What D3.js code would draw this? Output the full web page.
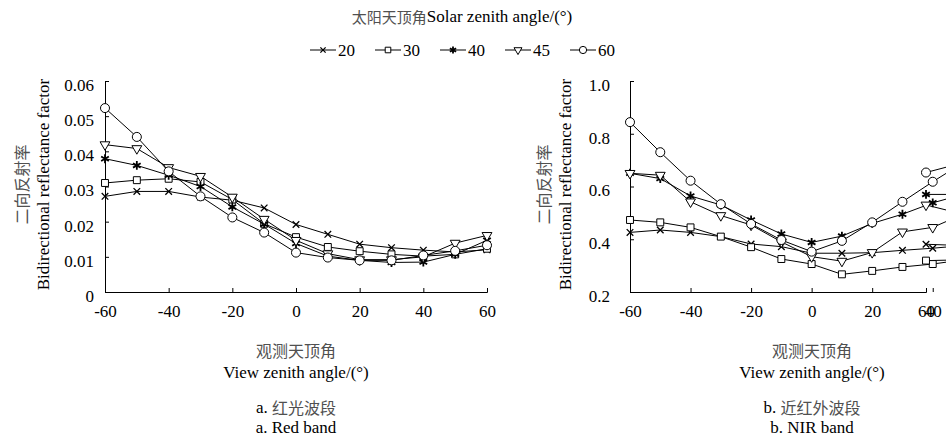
<!DOCTYPE html>
<html>
<head>
<meta charset="utf-8">
<script src="https://cdn.jsdelivr.net/npm/d3@7"></script>
<style>
  body { margin: 0; background: #fff; }
  text { font-family: "Liberation Serif", "Times New Roman", serif; fill: #000; }
  .cjk { font-family: "Noto Sans CJK SC", sans-serif; fill: #505050; }
</style>
</head>
<body>
<div id="chart"></div>
<script>
// view zenith angles (x) and the solar zenith angle series
var viewAngles = [-60, -50, -40, -30, -20, -10, 0, 10, 20, 30, 40, 50, 60];
var solarAngles = ["20", "30", "40", "45", "60"];

// red band reflectance, one array per solar zenith angle
var red20 = [0.0272, 0.0286, 0.0286, 0.0270, 0.0261, 0.0239, 0.0192, 0.0164, 0.0136, 0.0126, 0.0119, 0.0114, 0.0120];
var red30 = [0.0310, 0.0318, 0.0322, 0.0313, 0.0263, 0.0194, 0.0156, 0.0128, 0.0116, 0.0107, 0.0102, 0.0107, 0.0123];
var red40 = [0.0379, 0.0360, 0.0332, 0.0300, 0.0242, 0.0193, 0.0138, 0.0102, 0.0090, 0.0084, 0.0085, 0.0107, 0.0147];
var red45 = [0.0419, 0.0408, 0.0354, 0.0329, 0.0270, 0.0207, 0.0147, 0.0109, 0.0092, 0.0092, 0.0100, 0.0139, 0.0161];
var red60 = [0.0523, 0.0441, 0.0343, 0.0272, 0.0212, 0.0169, 0.0112, 0.0098, 0.0090, 0.0090, 0.0104, 0.0117, 0.0133];

// NIR band reflectance (the right panel is cut off in the source figure)
var nir20 = [0.426, 0.435, 0.426, 0.410, 0.382, 0.372, 0.347, 0.347, 0.349, 0.358, 0.366, 0.376, 0.381];
var nir30 = [0.473, 0.464, 0.445, 0.410, 0.370, 0.325, 0.306, 0.267, 0.280, 0.295, 0.306, 0.322, 0.319];
var nir40 = [0.650, 0.630, 0.564, 0.530, 0.473, 0.420, 0.388, 0.412, 0.460, 0.495, 0.538, 0.570, 0.570];
var nir45 = [0.650, 0.643, 0.542, 0.490, 0.454, 0.390, 0.334, 0.317, 0.350, 0.428, 0.445, 0.495, 0.530];
var nir60 = [0.844, 0.730, 0.622, 0.533, 0.458, 0.397, 0.353, 0.394, 0.464, 0.542, 0.618, 0.690, 0.653];

var xTickValues = [-60, -40, -20, 0, 20, 40, 60];
var redYTicks = [0, 0.01, 0.02, 0.03, 0.04, 0.05, 0.06];
var nirYTicks = [0.2, 0.4, 0.6, 0.8, 1.0];

var svgWidth = 946;
var svgHeight = 442;

var svg = d3.select("#chart")
    .append("svg")
    .attr("width", svgWidth)
    .attr("height", svgHeight);

// markers for each series
var symX = d3.symbolTimes || d3.symbolX;
var symStar = d3.symbolAsterisk || d3.symbolCross;
var markers = [
    {type: symX, size: 30, fill: "none", sw: 1.3, rot: 0},
    {type: d3.symbolSquare, size: 48, fill: "#fff", sw: 1, rot: 0},
    {type: symStar, size: 55, fill: "none", sw: 1.8, rot: 0},
    {type: d3.symbolTriangle, size: 42, fill: "#fff", sw: 1, rot: 180},
    {type: d3.symbolCircle, size: 64, fill: "#fff", sw: 1, rot: 0}
];

function drawMarker(g, i, cx, cy, scale) {
    var m = markers[i];
    g.append("path")
        .attr("d", d3.symbol().type(m.type).size(m.size * (scale || 1))())
        .attr("transform", "translate(" + cx + "," + cy + ") rotate(" + m.rot + ")")
        .attr("fill", m.fill)
        .attr("stroke", "#000")
        .attr("stroke-width", m.sw);
}

// title + legend
var title = svg.append("text")
    .attr("x", 462)
    .attr("y", 16)
    .attr("text-anchor", "middle")
    .attr("dominant-baseline", "central")
    .style("font-size", "17px");
title.append("tspan").attr("class", "cjk").style("font-size", "15px").text("太阳天顶角");
title.append("tspan").text("Solar zenith angle/(°)");

var legendX = d3.scaleLinear().domain([0, 1]).range([310, 375]);
solarAngles.forEach(function(s, i) {
    var lx = legendX(i);
    var g = svg.append("g");
    g.append("line")
        .attr("x1", lx).attr("x2", lx + 26)
        .attr("y1", 50).attr("y2", 50)
        .attr("stroke", "#000").attr("stroke-width", 1);
    drawMarker(g, i, lx + 13, 50, 0.65);
    g.append("text")
        .attr("x", lx + 28)
        .attr("y", 50)
        .attr("dominant-baseline", "central")
        .style("font-size", "17px")
        .text(s);
});

function drawPanel(p) {
    var g = svg.append("g");

    var yAxis = d3.axisLeft(p.y)
        .tickValues(p.yTicks)
        .tickFormat(p.yFmt)
        .tickSize(-4)
        .tickPadding(p.yPad);
    var xAxis = d3.axisBottom(p.x)
        .tickValues(xTickValues)
        .tickFormat(function(d) { return String(d); })
        .tickSize(-4)
        .tickPadding(13);

    var ya = g.append("g")
        .attr("transform", "translate(" + p.x.range()[0] + ",0)")
        .call(yAxis);
    var xa = g.append("g")
        .attr("transform", "translate(0," + p.y.range()[0] + ")")
        .call(xAxis);

    [ya, xa].forEach(function(a) {
        a.attr("font-family", null).attr("font-size", null);
        a.selectAll("path, line").attr("stroke", "#000").attr("stroke-width", 1);
        a.selectAll("text").style("font-size", "17px").attr("fill", "#000");
    });
    ya.selectAll("text").attr("dy", "0.55em");

    var line = d3.line()
        .x(function(d) { return p.x(d.a); })
        .y(function(d) { return p.y(d.v); });

    p.series.forEach(function(vals, i) {
        var pts = viewAngles.map(function(a, j) { return {a: a, v: vals[j]}; });
        g.append("path")
            .datum(pts)
            .attr("d", line)
            .attr("fill", "none")
            .attr("stroke", "#000")
            .attr("stroke-width", 1);
        pts.forEach(function(d) {
            drawMarker(g, i, p.x(d.a), p.y(d.v));
        });
    });

    // axis titles
    var yMid = (p.y.range()[0] + p.y.range()[1]) / 2 - 2;
    g.append("text")
        .attr("class", "cjk")
        .attr("transform", "translate(" + p.yTitleX[0] + "," + yMid + ") rotate(-90)")
        .attr("text-anchor", "middle")
        .attr("dominant-baseline", "central")
        .style("font-size", "16px")
        .text("二向反射率");
    g.append("text")
        .attr("transform", "translate(" + p.yTitleX[1] + "," + yMid + ") rotate(-90)")
        .attr("text-anchor", "middle")
        .attr("dominant-baseline", "central")
        .style("font-size", "17px")
        .text("Bidirectional reflectance factor");

    var lines = [
        {t: "观测天顶角", y: 350, cjk: true},
        {t: "View zenith angle/(°)", y: 372},
        {t: p.caption[0], y: 407, cjk: true},
        {t: p.caption[1], y: 427}
    ];
    lines.forEach(function(l) {
        var t = g.append("text")
            .attr("x", p.cx)
            .attr("y", l.y)
            .attr("text-anchor", "middle")
            .attr("dominant-baseline", "central")
            .style("font-size", "17px");
        if (l.cjk) {
            var parts = l.t.split(" ");
            if (parts.length > 1) {
                t.append("tspan").text(parts[0] + " ");
                t.append("tspan").attr("class", "cjk").style("font-size", "16px").text(parts[1]);
            } else {
                t.attr("class", "cjk").style("font-size", "16px").text(l.t);
            }
        } else {
            t.text(l.t);
        }
    });
}

// red band panel
drawPanel({
    x: d3.scaleLinear().domain([-60, 60]).range([105, 487]),
    y: d3.scaleLinear().domain([0, 0.06]).range([292, 81]),
    yTicks: redYTicks,
    yFmt: function(d) { return d === 0 ? "0" : d.toFixed(2); },
    yPad: 11,
    series: [red20, red30, red40, red45, red60],
    yTitleX: [21, 43],
    cx: 296,
    caption: ["a. 红光波段", "a. Red band"]
});

// NIR panel: the source figure places its last column (60) at the cut axis end
drawPanel({
    x: d3.scaleLinear().domain([-60, 50, 60]).range([630, 963, 926]),
    y: d3.scaleLinear().domain([0.2, 1.0]).range([292, 81]),
    yTicks: nirYTicks,
    yFmt: function(d) { return d.toFixed(1); },
    yPad: 20,
    series: [nir20, nir30, nir40, nir45, nir60],
    yTitleX: [543, 565],
    cx: 812,
    caption: ["b. 近红外波段", "b. NIR band"]
});
</script>
</body>
</html>
